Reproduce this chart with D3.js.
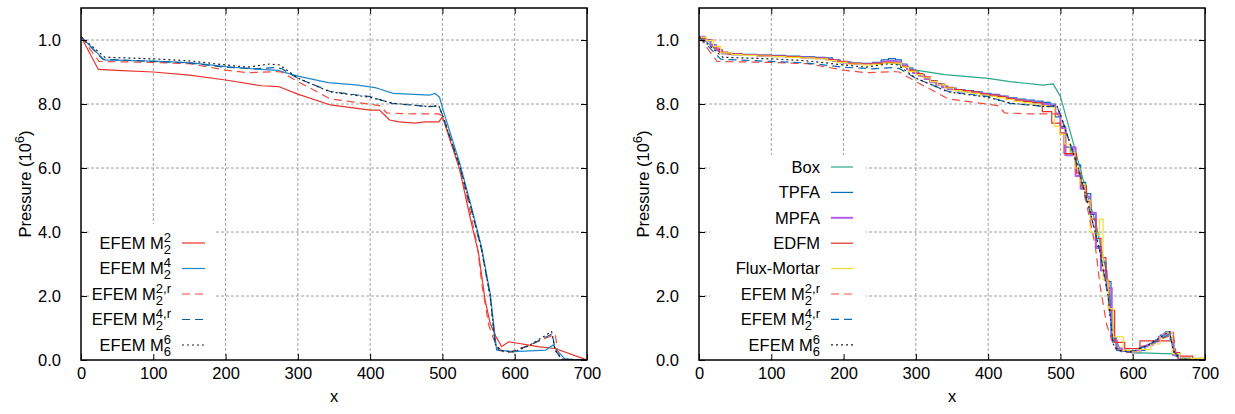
<!DOCTYPE html>
<html>
<head>
<meta charset="utf-8">
<script src="https://cdn.jsdelivr.net/npm/d3@7"></script>
<style>
  body { margin: 0; background: #fff; }
  text { font-family: "Liberation Sans", Arial, sans-serif; fill: #000; }
</style>
</head>
<body>
<svg id="chart" width="1235" height="414"></svg>
<script>
// axis ticks
const xTicks = [0, 100, 200, 300, 400, 500, 600, 700];
const yTicks = [0, 2, 4, 6, 8, 10];
const yTickLabels = ["0.0", "2.0", "4.0", "6.0", "8.0", "1.0"];

// EFEM curves, [x, pressure/1e6]
const efem22 = [[0,10.1],[24,9.08],[50,9.05],[100,9.0],[150,8.9],[200,8.75],[250,8.57],[274,8.54],[300,8.31],[345,7.97],[400,7.81],[413,7.81],[427,7.5],[440,7.44],[462,7.4],[476,7.44],[495,7.44],[500,7.6],[524,5.94],[538,4.48],[550,3.33],[559,1.88],[566,1.15],[574,0.73],[582,0.42],[592,0.57],[632,0.42],[656,0.36],[700,0]];
const efem24 = [[0,10.1],[32,9.38],[100,9.34],[150,9.29],[200,9.17],[250,9.08],[272,9.05],[300,8.87],[342,8.67],[380,8.6],[407,8.51],[414,8.46],[432,8.33],[483,8.28],[490,8.33],[496,8.21],[501,7.81],[524,6.15],[540,4.79],[554,3.54],[566,2.08],[575,0.31],[598,0.26],[643,0.31],[653,0.47],[658,0.31],[670,0.02],[700,0]];
const efem22r = [[0,10.1],[25,9.33],[100,9.3],[150,9.26],[200,9.06],[230,8.98],[270,9.01],[277,9.0],[300,8.7],[345,8.16],[400,7.99],[413,7.95],[423,7.72],[460,7.69],[495,7.69],[501,7.6],[520,6.3],[535,5.0],[548,3.6],[555,2.3],[564,1.1],[570,0.7],[576,0.42],[587,0.2],[600,0.3],[626,0.52],[656,0.81],[660,0.2],[668,0.02],[700,0]];
const efem24r = [[0,10.1],[30,9.4],[100,9.33],[150,9.28],[200,9.15],[240,9.1],[270,9.14],[278,9.1],[300,8.8],[345,8.39],[400,8.23],[430,8.02],[480,7.92],[495,7.94],[501,7.6],[524,6.05],[540,4.7],[554,3.45],[566,2.0],[573,0.5],[578,0.3],[595,0.25],[620,0.45],[652,0.82],[656,0.3],[665,0.03],[700,0]];
const efem66 = [[0,10.1],[33,9.46],[100,9.41],[150,9.35],[200,9.22],[230,9.15],[261,9.25],[275,9.22],[300,8.81],[344,8.38],[400,8.21],[430,8.03],[480,7.92],[495,7.95],[501,7.6],[524,6.05],[540,4.72],[554,3.47],[566,2.0],[573,0.5],[580,0.3],[598,0.25],[620,0.45],[651,0.89],[656,0.3],[665,0.03],[700,0]];

// other schemes (cell values, step after)
const boxData = [[0,10.1],[10,9.95],[30,9.6],[50,9.55],[100,9.5],[150,9.45],[175,9.42],[200,9.3],[230,9.25],[260,9.3],[275,9.25],[290,9.1],[300,9.06],[340,8.92],[400,8.8],[430,8.7],[476,8.59],[490,8.63],[500,8.23],[518,6.77],[534,5.42],[550,4.17],[564,2.71],[575,0.73],[582,0.36],[598,0.23],[656,0.19],[665,0.03],[700,0]];
const tpfa = [[0,10.1],[8,10.0],[16,9.85],[24,9.7],[32,9.6],[45,9.57],[60,9.55],[80,9.53],[100,9.52],[120,9.5],[140,9.48],[160,9.46],[175,9.44],[185,9.38],[195,9.32],[210,9.28],[225,9.27],[240,9.3],[252,9.38],[262,9.42],[272,9.38],[280,9.25],[288,9.12],[296,9.0],[304,8.92],[312,8.82],[320,8.72],[328,8.64],[336,8.56],[344,8.5],[356,8.45],[368,8.42],[380,8.38],[392,8.33],[404,8.3],[416,8.25],[428,8.19],[440,8.15],[452,8.12],[464,8.09],[476,8.05],[486,8.0],[493,7.6],[500,7.3],[507,6.65],[514,6.5],[521,6.1],[528,5.55],[535,5.2],[542,4.55],[549,3.55],[556,3.05],[563,2.45],[570,0.7],[577,0.35],[585,0.28],[593,0.25],[602,0.23],[610,0.3],[617,0.45],[624,0.52],[631,0.62],[638,0.78],[645,0.88],[652,0.62],[657,0.15],[665,0.05],[680,0.02],[700,0]];
const mpfa = [[0,10.1],[8,9.98],[16,9.82],[24,9.68],[32,9.58],[45,9.55],[60,9.53],[80,9.51],[100,9.49],[120,9.47],[140,9.45],[160,9.43],[175,9.4],[185,9.35],[195,9.3],[210,9.26],[225,9.25],[240,9.27],[252,9.32],[262,9.35],[272,9.32],[280,9.2],[288,9.08],[296,8.97],[304,8.88],[312,8.78],[320,8.68],[328,8.6],[336,8.52],[344,8.46],[356,8.42],[368,8.38],[380,8.34],[392,8.3],[404,8.27],[416,8.22],[428,8.16],[440,8.12],[452,8.08],[464,8.04],[476,8.0],[486,7.95],[493,7.7],[500,7.25],[507,6.4],[517,6.65],[521,5.75],[528,5.35],[535,5.1],[541,4.6],[549,3.5],[556,2.8],[564,2.25],[571,0.62],[578,0.36],[586,0.3],[595,0.26],[605,0.3],[612,0.42],[620,0.48],[628,0.58],[636,0.72],[643,0.82],[650,0.85],[656,0.15],[663,0.05],[680,0.02],[700,0]];
const edfm = [[0,10.05],[10,10.0],[20,9.75],[28,9.62],[40,9.56],[60,9.53],[80,9.52],[100,9.5],[120,9.48],[140,9.45],[160,9.43],[178,9.38],[190,9.33],[205,9.27],[225,9.25],[240,9.27],[255,9.3],[270,9.28],[280,9.18],[290,9.05],[300,8.95],[310,8.85],[320,8.72],[330,8.62],[340,8.52],[352,8.45],[364,8.42],[376,8.38],[388,8.32],[400,8.28],[412,8.24],[424,8.18],[436,8.12],[448,8.08],[460,8.04],[475,7.76],[488,7.4],[500,7.1],[505,6.45],[515,6.45],[522,5.85],[528,5.45],[536,4.95],[542,4.4],[549,3.8],[556,3.2],[563,2.5],[567,1.55],[575,0.55],[589,0.36],[610,0.6],[655,0.23],[665,0.12],[683,0.05],[700,0]];
const fluxMortar = [[0,10.08],[10,9.98],[20,9.8],[30,9.6],[45,9.54],[60,9.52],[80,9.5],[100,9.48],[120,9.46],[140,9.44],[160,9.41],[178,9.36],[190,9.3],[205,9.25],[225,9.22],[240,9.24],[255,9.28],[268,9.28],[280,9.15],[290,9.02],[300,8.92],[310,8.82],[320,8.7],[330,8.6],[340,8.5],[352,8.42],[364,8.38],[376,8.33],[388,8.28],[400,8.24],[412,8.2],[424,8.14],[436,8.08],[448,8.04],[460,8.0],[472,7.95],[484,7.9],[492,7.3],[499,7.05],[506,6.75],[513,6.5],[520,6.0],[527,5.5],[534,5.0],[541,4.0],[548,3.9],[554,4.4],[559,2.5],[566,1.6],[573,0.72],[587,0.3],[600,0.25],[610,0.33],[625,0.5],[638,0.72],[646,0.85],[655,0.2],[665,0.05],[700,0]];

const svg = d3.select("#chart");
const W = 506, H = 352, marginTop = 8;
const fs = 16.5, fsSmall = 13;
const x = d3.scaleLinear().domain([0, 700]).range([0, W]);
const y = d3.scaleLinear().domain([0, 11]).range([H, 0]);

const leftSeries = [
  { label: {base: "EFEM M", sup: "2", sub: "2"}, data: efem22, color: "#e8332b", width: 1.2 },
  { label: {base: "EFEM M", sup: "4", sub: "2"}, data: efem24, color: "#1f88cc", width: 1.2 },
  { label: {base: "EFEM M", sup: "2,r", sub: "2"}, data: efem22r, color: "#ef4b40", width: 1.2, dash: "8,5" },
  { label: {base: "EFEM M", sup: "4,r", sub: "2"}, data: efem24r, color: "#0b5f9e", width: 1.2, dash: "8,5" },
  { label: {base: "EFEM M", sup: "6", sub: "6"}, data: efem66, color: "#222", width: 1.2, dash: "2,3" }
];
const rightSeries = [
  { label: "Box", data: boxData, color: "#2aa889", width: 1.2 },
  { label: "TPFA", data: tpfa, color: "#0a6cb4", width: 1.2, step: true },
  { label: "MPFA", data: mpfa, color: "#b45ee8", width: 2, step: true },
  { label: "EDFM", data: edfm, color: "#e3302a", width: 1.2, step: true },
  { label: "Flux-Mortar", data: fluxMortar, color: "#f2e03a", width: 1.2, step: true },
  { label: {base: "EFEM M", sup: "2,r", sub: "2"}, data: efem22r, color: "#ef4b40", width: 1.2, dash: "8,5" },
  { label: {base: "EFEM M", sup: "4,r", sub: "2"}, data: efem24r, color: "#0a6cb4", width: 1.2, dash: "8,5" },
  { label: {base: "EFEM M", sup: "6", sub: "6"}, data: efem66, color: "#222", width: 1.2, dash: "2,3" }
];

// measure a string at a given size
function textWidth(g, str, size) {
  const t = g.append("text").attr("font-size", size).text(str);
  const w = t.node().getComputedTextLength();
  t.remove();
  return w;
}

// right-aligned key label, stacked sup/sub like gnuplot's enhanced text
function label(g, xr, yb, lab) {
  if (typeof lab === "string") {
    g.append("text").attr("x", xr).attr("y", yb).attr("text-anchor", "end")
      .attr("font-size", fs).text(lab);
    return;
  }
  const w = Math.max(textWidth(g, lab.sup, fsSmall), textWidth(g, lab.sub, fsSmall));
  const x0 = xr - w;
  const t = g.append("text").attr("x", x0 - textWidth(g, lab.base, fs)).attr("y", yb)
    .attr("font-size", fs);
  t.append("tspan").text(lab.base);
  t.append("tspan").attr("x", x0).attr("dy", -7).attr("font-size", fsSmall).text(lab.sup);
  t.append("tspan").attr("x", x0).attr("dy", 12).attr("font-size", fsSmall).text(lab.sub);
}

function panel(ox, series, leg, id) {
  const g = svg.append("g").attr("transform", "translate(" + ox + "," + marginTop + ")");

  g.append("clipPath").attr("id", id).append("rect").attr("width", W).attr("height", H);

  // grid
  g.append("g").selectAll("line").data(xTicks.slice(1, -1)).join("line")
    .attr("x1", d => x(d)).attr("x2", d => x(d)).attr("y1", 0).attr("y2", H)
    .attr("stroke", "#a0a0a0").attr("stroke-dasharray", "3,2");
  g.append("g").selectAll("line").data(yTicks.slice(1)).join("line")
    .attr("y1", d => y(d)).attr("y2", d => y(d)).attr("x1", 0).attr("x2", W)
    .attr("stroke", "#a0a0a0").attr("stroke-dasharray", "3,2");

  // key background hides the grid
  g.append("rect").attr("x", leg.box[0]).attr("y", leg.box[1])
    .attr("width", leg.box[2]).attr("height", leg.box[3]).attr("fill", "#fff");

  const curves = g.append("g").attr("clip-path", "url(#" + id + ")");
  series.forEach(s => {
    const line = d3.line().x(d => x(d[0])).y(d => y(d[1]))
      .curve(s.step ? d3.curveStepAfter : d3.curveLinear);
    curves.append("path").datum(s.data).attr("d", line)
      .attr("fill", "none").attr("stroke", s.color).attr("stroke-width", s.width)
      .attr("stroke-dasharray", s.dash || null).attr("stroke-linejoin", "round");
  });

  // axes with inward ticks, mirrored
  const ax = g.append("g").attr("class", "axes");
  ax.append("g").attr("transform", "translate(0," + H + ")")
    .call(d3.axisBottom(x).tickValues(xTicks).tickSize(-6).tickPadding(7));
  ax.append("g").call(d3.axisTop(x).tickValues(xTicks).tickSize(-6).tickFormat(""));
  ax.append("g")
    .call(d3.axisLeft(y).tickValues(yTicks).tickSize(-6).tickPadding(20)
      .tickFormat((d, i) => yTickLabels[i]));
  ax.append("g").attr("transform", "translate(" + W + ",0)")
    .call(d3.axisRight(y).tickValues(yTicks).tickSize(-6).tickFormat(""));
  ax.selectAll(".domain").remove();
  ax.selectAll("line").attr("stroke", "#000");
  ax.selectAll("text").attr("font-size", fs).attr("font-family", "Liberation Sans, Arial, sans-serif");
  g.append("rect").attr("width", W).attr("height", H)
    .attr("fill", "none").attr("stroke", "#000").attr("stroke-width", 1.5);

  // axis titles
  g.append("text").attr("x", W / 2).attr("y", H + 42).attr("text-anchor", "middle")
    .attr("font-size", fs).text("x");
  const yl = g.append("text").attr("transform", "translate(" + (-50) + "," + (H / 2) + ") rotate(-90)")
    .attr("text-anchor", "middle").attr("font-size", fs);
  yl.append("tspan").text("Pressure (10");
  yl.append("tspan").attr("dy", -7).attr("font-size", fsSmall).text("6");
  yl.append("tspan").attr("dy", 7).text(")");

  // key
  const k = g.append("g");
  series.forEach((s, i) => {
    const ry = leg.y0 + i * leg.dy;
    label(k, leg.textRight, ry + 5.8, s.label);
    k.append("line").attr("x1", leg.x1).attr("x2", leg.x2).attr("y1", ry).attr("y2", ry)
      .attr("stroke", s.color).attr("stroke-width", s.width)
      .attr("stroke-dasharray", s.dash || null);
  });
}

panel(81, leftSeries, { box: [9, 216, 124, 134], y0: 235, dy: 25.5, textRight: 90, x1: 101, x2: 124 }, "clipL");
panel(699, rightSeries, { box: [11, 147, 156, 202], y0: 159, dy: 25.4, textRight: 121, x1: 132, x2: 154 }, "clipR");
</script>
</body>
</html>
